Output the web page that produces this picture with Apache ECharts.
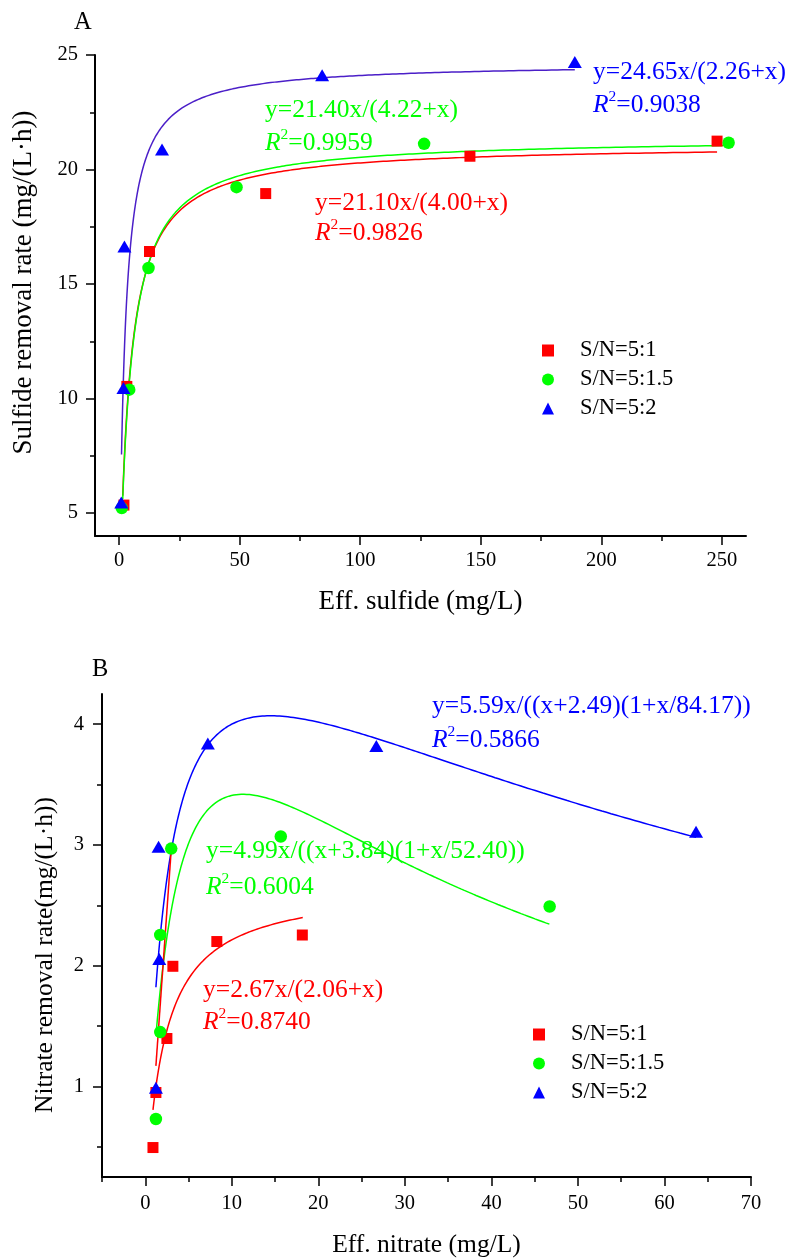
<!DOCTYPE html>
<html><head><meta charset="utf-8">
<script src="https://cdn.jsdelivr.net/npm/echarts@6/dist/echarts.min.js"></script>
<style>html,body{margin:0;padding:0;background:#fff}#c{width:790px;height:1259px}</style>
</head><body><div id="c"></div>
<script>
const FONT = '"Liberation Serif","Times New Roman",serif';
const seriesNames = ['S/N=5:1', 'S/N=5:1.5', 'S/N=5:2'];
const markerColors = ['#ff0000', '#00ff00', '#0000ff'];

// ---- Panel A: sulfide ----
const sulfideA_51  = [[2.0,5.35],[3.2,10.53],[12.6,16.42],[60.8,18.95],[145.5,20.58],[248,21.24]];
const sulfideA_515 = [[1.1,5.22],[4.2,10.39],[12.2,15.70],[48.7,19.23],[126.5,21.12],[252.8,21.17]];
const sulfideA_52  = [[0.9,5.46],[1.8,10.46],[2.2,16.64],[17.8,20.87],[84.2,24.12],[189,24.69]];
const fitA_Vmax  = [21.10, 21.40, 24.65];
const fitA_Ks    = [4.00, 4.22, 2.26];
const fitA_range = [[1.5,248],[1.5,252.8],[1.0,189]];
const fitA_eq    = ['y=21.10x/(4.00+x)', 'y=21.40x/(4.22+x)', 'y=24.65x/(2.26+x)'];
const fitA_r2    = ['0.9826', '0.9959', '0.9038'];
const xTicksA = [0,50,100,150,200,250];
const xMinorA = [25,75,125,175,225];
const yTicksA = [5,10,15,20,25];
const yMinorA = [7.5,12.5,17.5,22.5];

// ---- Panel B: nitrate ----
const nitrateB_51  = [[0.89,0.494],[1.23,0.95],[2.5,1.397],[3.19,1.995],[8.27,2.20],[18.15,2.254]];
const nitrateB_515 = [[1.23,0.73],[1.73,1.45],[1.73,2.255],[3.0,2.97],[15.66,3.07],[46.73,2.49]];
const nitrateB_52  = [[1.23,0.99],[1.62,2.055],[1.54,2.985],[7.23,3.84],[26.7,3.82],[63.65,3.11]];
const fitB_a     = [2.67, 6.27, 5.59];      // curves as drawn
const fitB_K     = [2.06, 4.00, 2.49];
const fitB_Ki    = [Infinity, 31.9, 84.17];
const fitB_range = [[0.89,18.2],[1.23,46.7],[1.23,63.65]];
const fitB_eq    = ['y=2.67x/(2.06+x)', 'y=4.99x/((x+3.84)(1+x/52.40))', 'y=5.59x/((x+2.49)(1+x/84.17))'];
const fitB_r2    = ['0.8740', '0.6004', '0.5866'];
const extraRedLineB = [[1.23,1.17],[3.0,2.96]];
const xTicksB = [0,10,20,30,40,50,60,70];
const xMinorB = [-5,5,15,25,35,45,55,65];
const yTicksB = [1,2,3,4];
const yMinorB = [0.5,1.5,2.5,3.5];

function sampleCurve(f, x0, x1, n) {
  const pts = [];
  for (let i = 0; i <= n; i++) {
    const x = x0 * Math.pow(x1 / x0, i / n);
    pts.push([x, f(x)]);
  }
  return pts;
}

const axisBase = {
  type: 'value', splitLine: {show: false},
  axisLine: {show: true, onZero: false, lineStyle: {color: '#000', width: 2}},
};
function mainAxis(grid, min, max, ticks, name, nameGap, nameSize, margin, pos, namePad) {
  return Object.assign({}, axisBase, {
    gridIndex: grid, min, max, position: pos,
    axisTick: {show: true, customValues: ticks, length: 9, lineStyle: {color: '#000', width: 1.5}},
    axisLabel: {show: true, customValues: ticks, color: '#000', fontFamily: FONT, fontSize: 20.5, margin},
    name, nameLocation: 'middle', nameGap,
    nameTextStyle: {color: '#000', fontFamily: FONT, fontSize: nameSize, padding: namePad || 0}
  });
}
function minorAxis(grid, min, max, ticks, pos) {
  return Object.assign({}, axisBase, {
    gridIndex: grid, min, max, position: pos,
    axisLine: {show: false, onZero: false},
    axisTick: {show: true, customValues: ticks, length: 5, lineStyle: {color: '#000', width: 1.5}},
    axisLabel: {show: false}
  });
}

const series = [];
[sulfideA_51, sulfideA_515, sulfideA_52].forEach((d, i) => {
  const c = ['#ff0000', '#00ff00', '#4b1fc8'][i];
  series.push({type: 'line', xAxisIndex: 0, yAxisIndex: 0, showSymbol: false, symbol: 'none', z: 2,
    lineStyle: {color: c, width: 1.5}, silent: true,
    data: sampleCurve(x => fitA_Vmax[i] * x / (fitA_Ks[i] + x), fitA_range[i][0], fitA_range[i][1], 400)});
});
[nitrateB_51, nitrateB_515, nitrateB_52].forEach((d, i) => {
  series.push({type: 'line', xAxisIndex: 2, yAxisIndex: 2, showSymbol: false, symbol: 'none', z: 2,
    lineStyle: {color: markerColors[i], width: 1.5}, silent: true,
    data: sampleCurve(x => fitB_a[i] * x / ((x + fitB_K[i]) * (1 + x / fitB_Ki[i])), fitB_range[i][0], fitB_range[i][1], 400)});
});
series.push({type: 'line', xAxisIndex: 2, yAxisIndex: 2, showSymbol: false, symbol: 'none', z: 2,
  lineStyle: {color: '#ff0000', width: 1.5}, silent: true, data: extraRedLineB});

const symbols = ['rect', 'circle', 'triangle'];
const symSizes = [11, 12.5, [14, 12]];
[[sulfideA_51, sulfideA_515, sulfideA_52], [nitrateB_51, nitrateB_515, nitrateB_52]].forEach((grp, g) => {
  grp.forEach((d, i) => {
    series.push({type: 'scatter', name: seriesNames[i], xAxisIndex: g * 2, yAxisIndex: g * 2, z: 3,
      symbol: symbols[i], symbolSize: symSizes[i], itemStyle: {color: markerColors[i], opacity: 1}, data: d});
  });
});

const graphics = [];
function addAnnot(x, yEq, yR2, eq, r2, color) {
  const tokenBase = {fontFamily: FONT, fontSize: 25.5, fill: color};
  graphics.push(
    {type: 'text', x, y: yEq, silent: true, style: {text: eq, fill: color, fontFamily: FONT, fontSize: 25.5, verticalAlign: 'middle'}},
    {type: 'text', x, y: yR2, silent: true, style: {
      text: '{i|R}{s|2}{n|=' + r2 + '}', fill: color, fontFamily: FONT, fontSize: 25.5, verticalAlign: 'middle',
      rich: {
        i: Object.assign({}, tokenBase, {fontStyle: 'italic'}),
        s: {fontFamily: FONT, fontSize: 15.5, fill: color, padding: [0, 0, 17, 0]},
        n: tokenBase
      }}}
  );
}
addAnnot(593, 72, 105, fitA_eq[2], fitA_r2[2], '#0000ff');
addAnnot(265, 110, 143, fitA_eq[1], fitA_r2[1], '#00ff00');
addAnnot(315, 203, 233, fitA_eq[0], fitA_r2[0], '#ff0000');
addAnnot(432, 706, 740, fitB_eq[2], fitB_r2[2], '#0000ff');
addAnnot(206, 851, 887, fitB_eq[1], fitB_r2[1], '#00ff00');
addAnnot(203, 990, 1022, fitB_eq[0], fitB_r2[0], '#ff0000');
graphics.push({type: 'text', x: 74, y: 23, style: {text: 'A', fill: '#000', fontFamily: FONT, fontSize: 24.5, verticalAlign: 'middle'}});
graphics.push({type: 'text', x: 92, y: 670, style: {text: 'B', fill: '#000', fontFamily: FONT, fontSize: 24.5, verticalAlign: 'middle'}});
graphics.push({type: 'text', x: 24, y: 282.5, rotation: Math.PI / 2, silent: true,
  style: {text: 'Sulfide removal rate (mg/(L·h))', fill: '#000', fontFamily: FONT, fontSize: 27, align: 'center', verticalAlign: 'middle'}});

const legendBase = {orient: 'vertical', data: seriesNames, itemWidth: 12, itemHeight: 12, itemGap: 6,
  textStyle: {color: '#000', fontFamily: FONT, fontSize: 22.5, padding: [0, 0, 0, 21]}, selectedMode: false};

const option = {
  animation: false,
  backgroundColor: '#fff',
  grid: [
    {left: 95, top: 55, width: 651, height: 481},
    {left: 102, top: 694, width: 649, height: 484}
  ],
  xAxis: [
    mainAxis(0, -10, 260, xTicksA, 'Eff. sulfide (mg/L)', 52, 27, 14, 'bottom'),
    minorAxis(0, -10, 260, xMinorA, 'bottom'),
    mainAxis(1, -5, 70, xTicksB, 'Eff. nitrate (mg/L)', 55, 25.5, 16, 'bottom'),
    minorAxis(1, -5, 70, xMinorB, 'bottom')
  ],
  yAxis: [
    mainAxis(0, 4, 25, yTicksA, '', 62, 27, 17, 'left'),
    minorAxis(0, 4, 25, yMinorA, 'left'),
    mainAxis(1, 0.25, 4.25, yTicksB, 'Nitrate removal rate(mg/(L·h))', 44, 25.5, 18, 'left', [0, 39, 0, 0]),
    minorAxis(1, 0.25, 4.25, yMinorB, 'left')
  ],
  legend: [
    Object.assign({}, legendBase, {left: 537, top: 334}),
    Object.assign({}, legendBase, {left: 528, top: 1018})
  ],
  graphic: graphics,
  series
};
const chart = echarts.init(document.getElementById('c'), null, {renderer: 'canvas'});
chart.setOption(option);
</script></body></html>
